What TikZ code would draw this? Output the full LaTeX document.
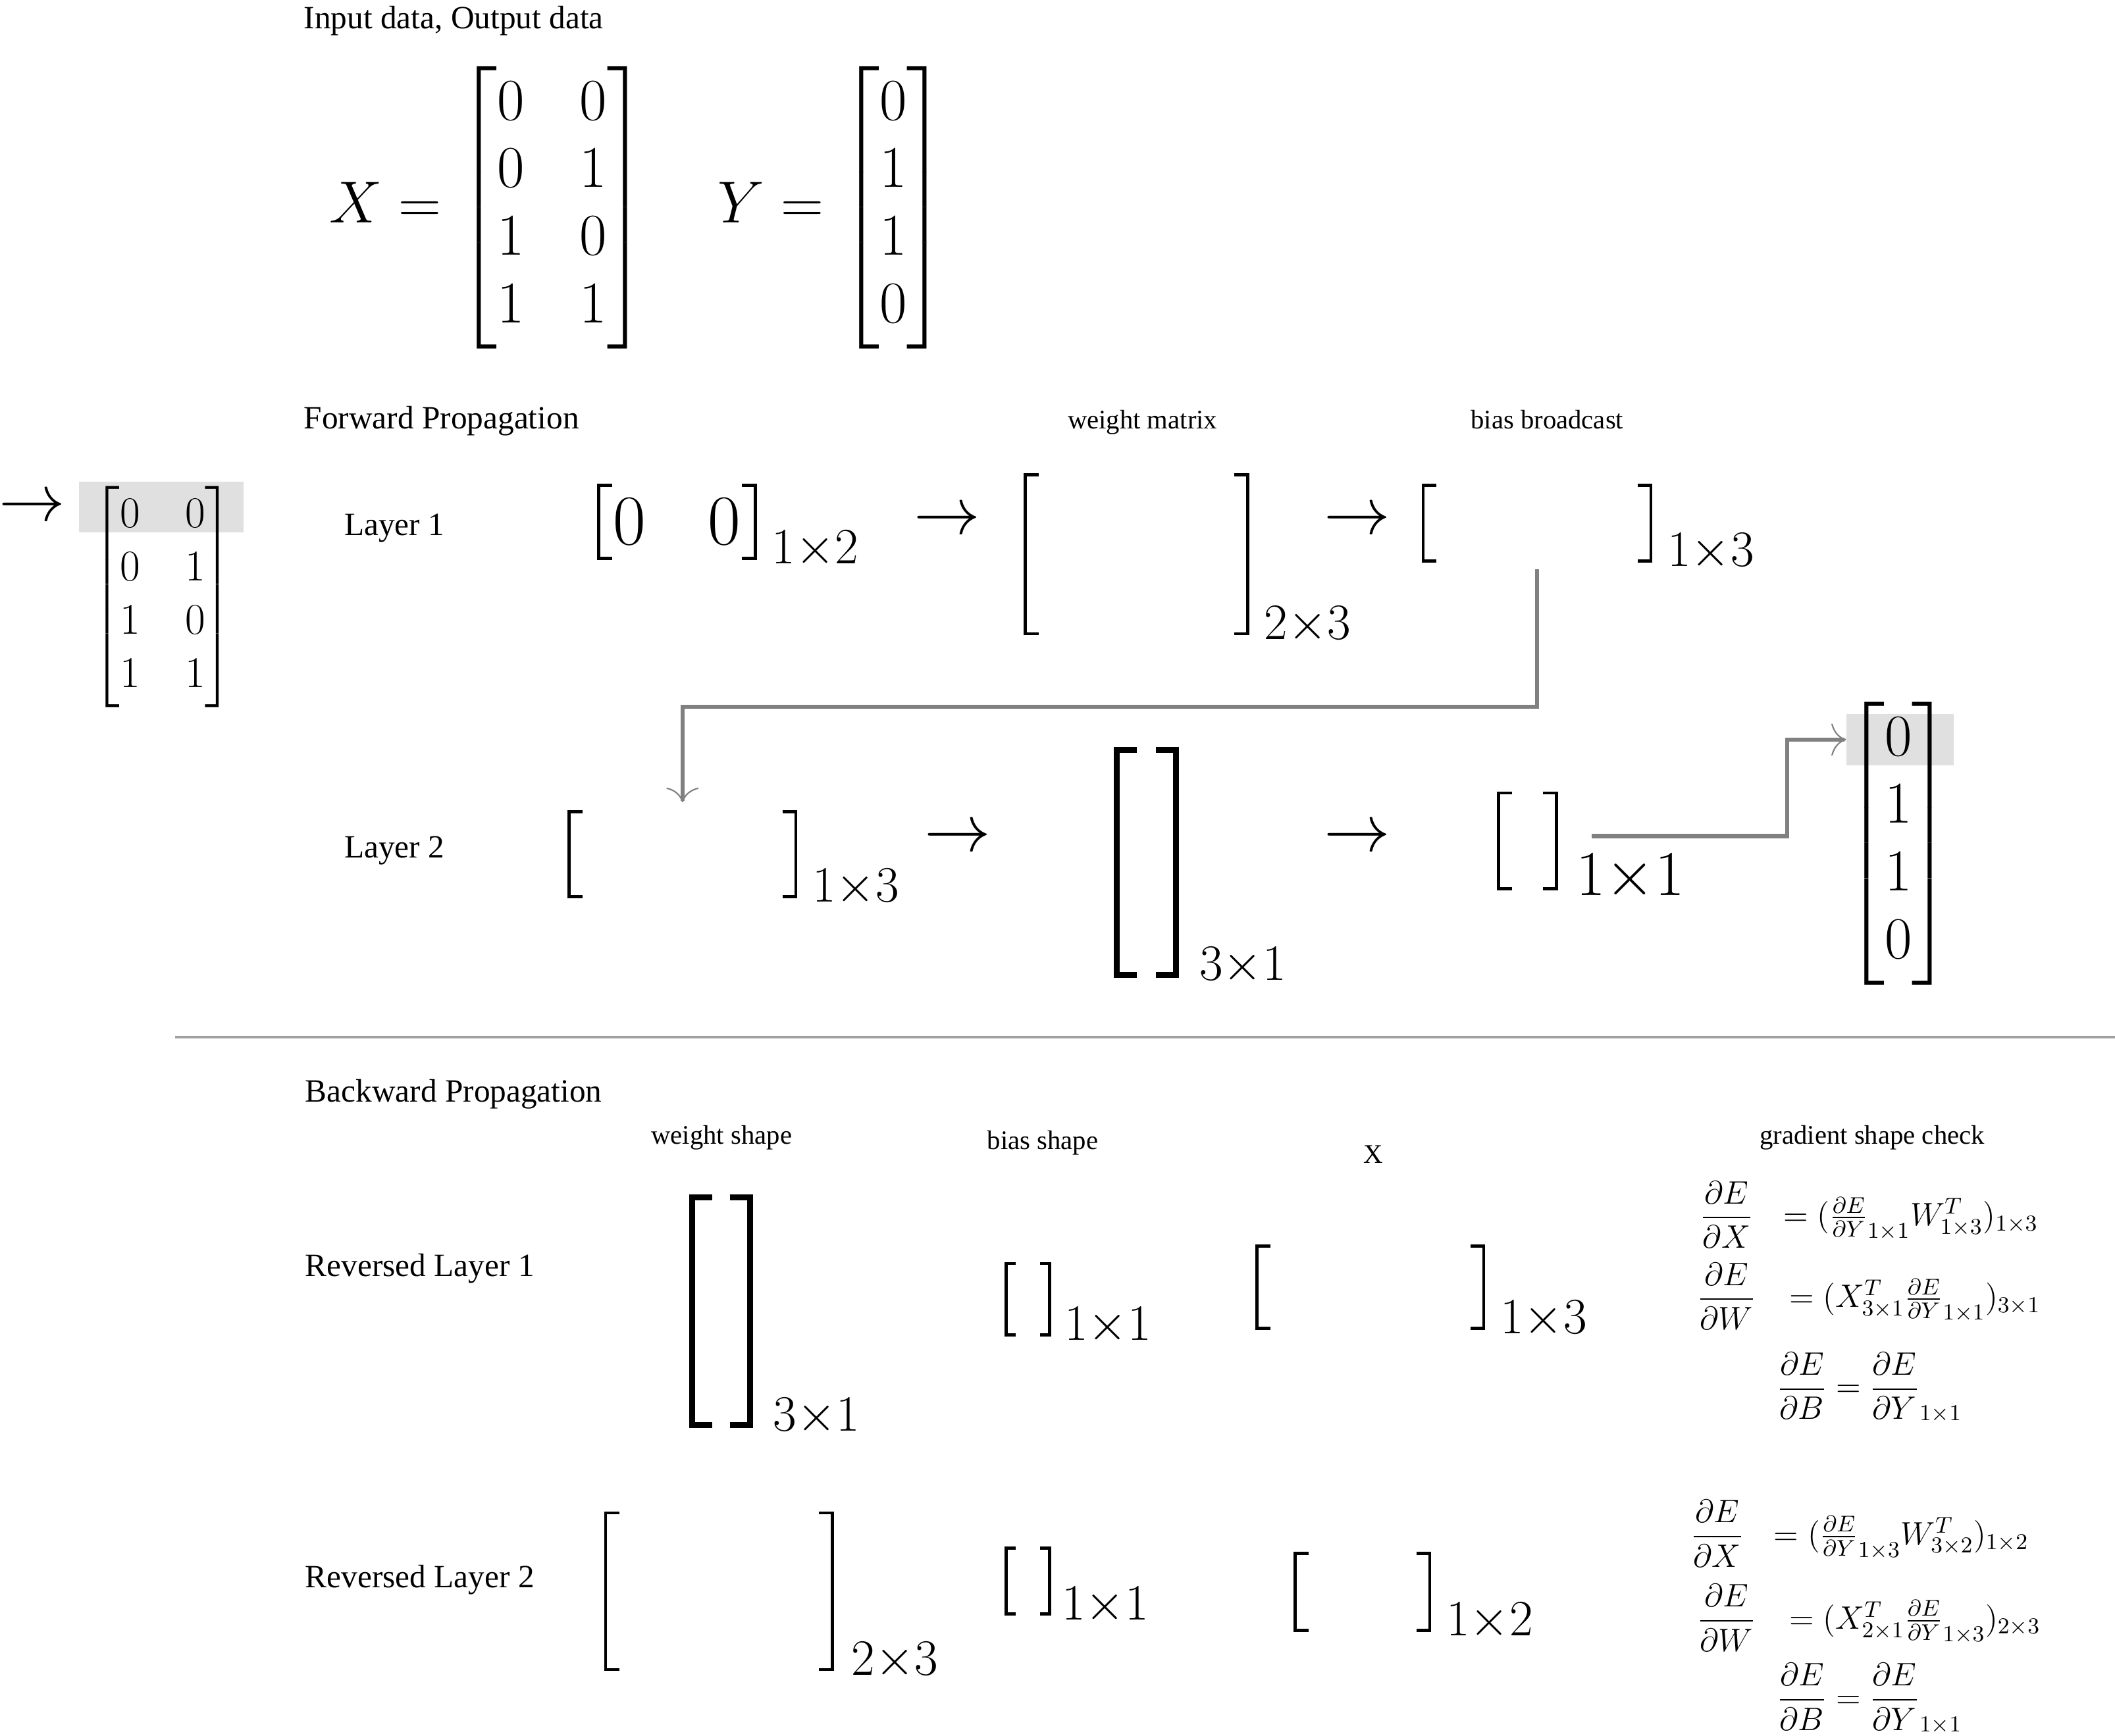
\RequirePackage{fix-cm}
\documentclass[tikz,border=0pt]{standalone}
\usepackage{amsmath}
\usepackage[no-math]{fontspec}
\setmainfont{Liberation Serif}
\usepackage{tikz}
\usetikzlibrary{positioning,arrows.meta}
\definecolor{linkcol}{RGB}{128,128,128}
\definecolor{rulecol}{RGB}{160,160,160}
\definecolor{hlcol}{RGB}{224,224,224}

\begin{document}
\begin{tikzpicture}[
  head/.style={inner sep=0pt, anchor=base west, font=\fontsize{13.7}{16.4}\selectfont},
  tag/.style={inner sep=0pt, anchor=base, font=\fontsize{11.3}{13.5}\selectfont},
  eq/.style={inner sep=0pt, anchor=base west, font=\fontsize{13.7}{16.4}\selectfont},
  emat/.style n args={2}{inner sep=0pt, outer sep=0pt, minimum width=#1, minimum height=#2},
  brk/.style={line width=1.3pt, black},
  brkheavy/.style={line width=2.5pt, black},
  sub/.style={inner sep=0pt, anchor=base west, font=\fontsize{21.5}{26}\selectfont},
  arr/.style={inner sep=0pt, font=\fontsize{28}{34}\selectfont},
  big/.style={inner sep=0pt, font=\fontsize{25}{30}\selectfont},
  hl/.style={fill=hlcol, inner sep=0pt, minimum width=#1, minimum height=0.76cm},
  link/.style={line width=1.7pt, linkcol,
               -{Computer Modern Rightarrow[length=0.22cm, width=0.48cm, line width=0.6pt]}},
  sep/.style={line width=1.1pt, rulecol}
]
\useasboundingbox (0,0) rectangle (31.36,-25.74);

% input / output data
\node[head] (tin) at (4.50,-0.42) {Input data, Output data};
\node[big, anchor=west] (xin) at (4.88,-3.08)
  {\arraycolsep=11.7pt\def\arraystretch{0.95}$X = \begin{bmatrix}0&0\\0&1\\1&0\\1&1\end{bmatrix}$};
\node[big, anchor=west] (yout) at (10.64,-3.08)
  {\def\arraystretch{0.95}$Y = \begin{bmatrix}0\\1\\1\\0\end{bmatrix}$};

% forward propagation
\node[head] (tfwd) at (4.50,-6.36) {Forward Propagation};
\node[tag] (twm) at (16.94,-6.36) {weight matrix};
\node[tag] (tbb) at (22.94,-6.36) {bias broadcast};

\node[hl=2.44cm] (hl1) at (2.395,-7.52) {};
\node[arr] (a0) at (0.48,-7.54) {$\rightarrow$};
\node[inner sep=0pt, font=\fontsize{18.5}{22.2}\selectfont] (xs) at (2.41,-8.85)
  {\arraycolsep=9.5pt\def\arraystretch{1.01}$\begin{bmatrix}0&0\\0&1\\1&0\\1&1\end{bmatrix}$};

\node[head] (tl1) at (5.10,-7.94) {Layer 1};
\node[emat={2.32cm}{1.08cm}, font=\fontsize{30}{36}\selectfont] (x1) at (10.04,-7.74) {$0\hspace{0.92cm}0$};
\node[arr] (a1) at (14.04,-7.74) {$\rightarrow$};
\node[emat={3.30cm}{2.36cm}] (w1) at (16.85,-8.22) {};
\node[arr] (a2) at (20.12,-7.74) {$\rightarrow$};
\node[emat={3.38cm}{1.12cm}] (b1) at (22.79,-7.76) {};

\node[head] (tl2) at (5.10,-12.72) {Layer 2};
\node[emat={3.36cm}{1.26cm}] (x2) at (10.12,-12.67) {};
\node[arr] (a3) at (14.20,-12.44) {$\rightarrow$};
\node[emat={0.88cm}{3.34cm}] (w2) at (17.00,-12.79) {};
\node[arr] (a4) at (20.12,-12.44) {$\rightarrow$};
\node[emat={0.86cm}{1.42cm}] (y1) at (22.65,-12.47) {};

\node[hl=1.59cm] (hl2) at (28.175,-10.97) {};
\node[big] (ys) at (28.15,-12.51)
  {\def\arraystretch{0.95}$\begin{bmatrix}0\\1\\1\\0\end{bmatrix}$};

\draw[link, shorten <=0.12cm, shorten >=0.14cm] (b1.south) -- ++(0,-2.16) -| (x2.north);
\draw[link] ([shift={(0.52cm,0.07cm)}]y1.east) -- ++(2.9,0) |- (hl2.west);

\draw[sep] (2.6,-15.38) -- (31.36,-15.38);

% backward propagation
\node[head] (tbwd) at (4.52,-16.34) {Backward Propagation};
\node[tag] (tws) at (10.70,-16.97) {weight shape};
\node[tag] (tbs) at (15.46,-17.05) {bias shape};
\node[tag] (tx) at (20.36,-17.25) {X};
\node[tag] (tgc) at (27.76,-16.97) {gradient shape check};

\node[head] (tr1) at (4.52,-18.93) {Reversed Layer 1};
\node[emat={0.86cm}{3.38cm}] (gw1) at (10.69,-19.45) {};
\node[emat={0.64cm}{1.06cm}] (gb1) at (15.24,-19.27) {};
\node[emat={3.36cm}{1.22cm}] (gx1) at (20.32,-19.09) {};

\node[head] (tr2) at (4.52,-23.55) {Reversed Layer 2};
\node[emat={3.36cm}{2.32cm}] (gw2) at (10.66,-23.60) {};
\node[emat={0.64cm}{0.98cm}] (gb2) at (15.24,-23.45) {};
\node[emat={2.00cm}{1.14cm}] (gx2) at (20.20,-23.61) {};

% brackets and shapes
\foreach \m/\w/\st in {x1/0.2/brk, w1/0.2/brk, b1/0.2/brk, x2/0.2/brk, y1/0.2/brk,
                       gx1/0.2/brk, gw2/0.2/brk, gx2/0.2/brk, gb1/0.14/brk, gb2/0.14/brk,
                       w2/0.3/brkheavy, gw1/0.3/brkheavy}
  \draw[\st] ([xshift=\w cm]\m.north west) -| (\m.south west) -- ++(\w,0)
             ([xshift=-\w cm]\m.north east) -| (\m.south east) -- ++(-\w,0);

\foreach \m/\s/\d in {x1/1{\times}2/0.24, w1/2{\times}3/0.24, b1/1{\times}3/0.24, x2/1{\times}3/0.24,
                      w2/3{\times}1/0.34, gw1/3{\times}1/0.34, gb1/1{\times}1/0.22, gx1/1{\times}3/0.24,
                      gw2/2{\times}3/0.28, gb2/1{\times}1/0.18, gx2/1{\times}2/0.24}
  \node[sub] (\m-sub) at ([shift={(\d cm,-0.08cm)}]\m.south east) {$\s$};
\node[sub, font=\fontsize{27}{32}\selectfont] (y1-sub) at ([shift={(0.28cm,-0.1cm)}]y1.south east) {$1{\times}1$};

% gradient checks
\node[eq] (e1a) at (25.20,-18.18)
  {$\dfrac{\partial E}{\partial X}\hspace{0.65em}= (\tfrac{\partial E}{\partial Y}_{1\times1}W^T_{1\times3})_{1\times3}$};
\node[eq] (e1b) at (25.16,-19.39)
  {$\dfrac{\partial E}{\partial W}\hspace{0.75em}= (X^T_{3\times1}\tfrac{\partial E}{\partial Y}_{1\times1})_{3\times1}$};
\node[eq] (e1c) at (26.34,-20.72)
  {$\dfrac{\partial E}{\partial B} = \dfrac{\partial E}{\partial Y}_{1\times1}$};
\node[eq] (e2a) at (25.06,-22.91)
  {$\dfrac{\partial E}{\partial X}\hspace{0.65em}= (\tfrac{\partial E}{\partial Y}_{1\times3}W^T_{3\times2})_{1\times2}$};
\node[eq] (e2b) at (25.16,-24.16)
  {$\dfrac{\partial E}{\partial W}\hspace{0.75em}= (X^T_{2\times1}\tfrac{\partial E}{\partial Y}_{1\times3})_{2\times3}$};
\node[eq] (e2c) at (26.34,-25.33)
  {$\dfrac{\partial E}{\partial B} = \dfrac{\partial E}{\partial Y}_{1\times1}$};

\end{tikzpicture}
\end{document}
